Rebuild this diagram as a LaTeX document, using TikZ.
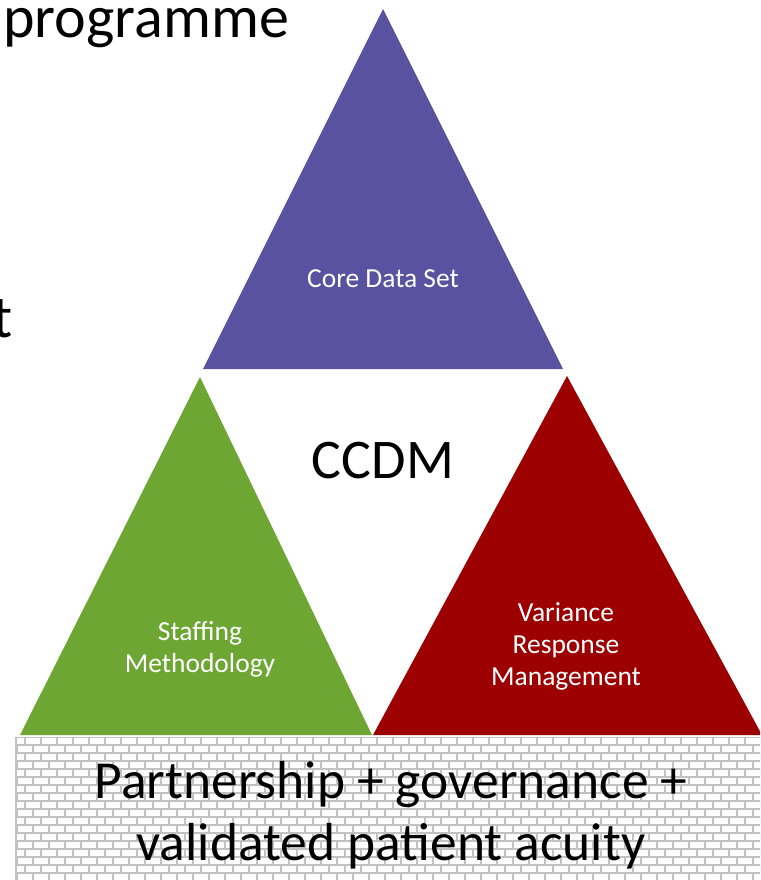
\documentclass[tikz,border=0pt]{standalone}
\usepackage{fontspec}
\setmainfont{Carlito}
\definecolor{cdpurple}{HTML}{5952A0}
\definecolor{cdgreen}{HTML}{6EA634}
\definecolor{cdred}{HTML}{9C0000}
\definecolor{brickgray}{HTML}{C2C2C2}
\tikzset{
  bigtext/.style={inner sep=0pt, anchor=base, font=\fontsize{53.5}{62}\selectfont},
  titletext/.style={inner sep=0pt, anchor=base east, font=\fontsize{60}{70}\selectfont},
  whitelabel/.style={inner sep=0pt, text=white, align=center, font=\fontsize{27.5}{32}\selectfont},
  brickline/.style={draw=brickgray, line width=1.3pt}
}
\begin{document}
\begin{tikzpicture}[x=1pt, y=-1pt]
\useasboundingbox (0,0) rectangle (760,880);
\clip (0,0) rectangle (760,880);
% cut-off title text
\node[titletext] (prog) at (289,38) {programme};
\node[titletext] (tt) at (13,337) {t};
% triangles
\fill[cdpurple] (383,9) -- (563,369) -- (203,369) -- cycle;
\fill[cdgreen] (200,377) -- (372,735) -- (20,735) -- cycle;
\fill[cdred] (567,376) -- (762,735) -- (373,735) -- cycle;
% brick wall
\begin{scope}
\clip (15,737) rectangle (760,880);
\fill[white] (15,737) rectangle (760,880);
\foreach \r in {0,...,18}{
  \pgfmathsetmacro{\yy}{737+8*\r}
  \pgfmathsetmacro{\yb}{745+8*\r}
  \pgfmathsetmacro{\xo}{mod(\r,2)==0 ? 9 : 17}
  \draw[brickline] (15,\yy) -- (760,\yy);
  \foreach \k in {0,...,47}{
    \pgfmathsetmacro{\xx}{\xo+16*\k}
    \draw[brickline] (\xx,\yy) -- (\xx,\yb);
  }
}
\draw[brickline] (16,737) -- (16,880);
\end{scope}
% labels
\node[inner sep=0pt, anchor=base, text=white, font=\fontsize{27.5}{32}\selectfont] (core) at (383,287) {Core Data Set};
\node[bigtext, font=\fontsize{56}{62}\selectfont] (ccdm) at (383,478) {CCDM};
\node[whitelabel, anchor=base] (staff) at (200,672) {Staffing\\Methodology};
\node[whitelabel, anchor=base] (var) at (566,685) {Variance\\Response\\Management};
\node[bigtext] (part1) at (391,798) {Partnership + governance +};
\node[bigtext] (part2) at (391,860) {validated patient acuity};
\end{tikzpicture}
\end{document}
